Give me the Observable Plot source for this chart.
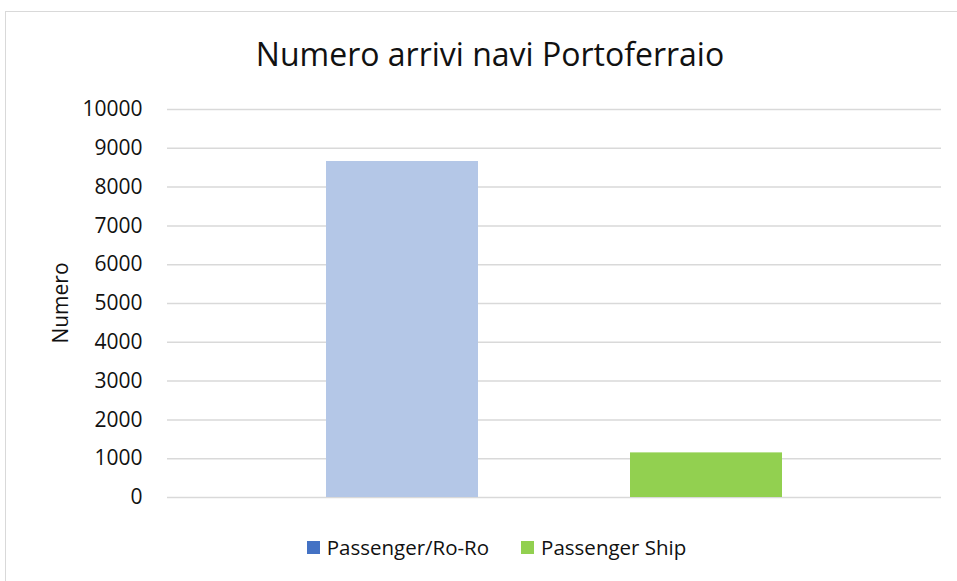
<!DOCTYPE html>
<html><head><meta charset="utf-8">
<script src="https://cdn.jsdelivr.net/npm/d3@7"></script>
<script src="https://cdn.jsdelivr.net/npm/@observablehq/plot@0.6"></script>
<style>
body{margin:0;background:#fff;font-family:"Open Sans",sans-serif;}
#wrap{position:relative;width:957px;height:581px;overflow:hidden;}
#frame{position:absolute;left:5px;top:11px;width:1000px;height:700px;border:1px solid #d9d9d9;}
#title{position:absolute;left:0;top:32px;width:980px;text-align:center;font-size:32px;color:#111;line-height:44px;}
#chart{position:absolute;left:0;top:85px;}
#ylab{position:absolute;left:60px;top:303px;transform:translate(-50%,-50%) rotate(-90deg);font-size:21px;color:#111;white-space:nowrap;}
#legend{position:absolute;top:533px;left:0;width:957px;display:flex;justify-content:center;font-size:20.5px;color:#111;padding-left:36px;box-sizing:border-box;}
.item{display:flex;align-items:center;margin:0 16px;}
.sw{width:13px;height:13px;margin-right:7px;}
</style></head><body>
<div id="wrap">
<div id="frame"></div>
<div id="title">Numero arrivi navi Portoferraio</div>
<div id="chart"></div>
<div id="ylab">Numero</div>
<div id="legend"></div>
</div>
<script>
const categories = ["Passenger/Ro-Ro", "Passenger Ship"];
const values = [8660, 1150];
const barColors = ["#b4c7e7", "#92d050"];
const legendColors = ["#4472c4", "#92d050"];
const yTicks = [0,1000,2000,3000,4000,5000,6000,7000,8000,9000,10000];

const data = categories.map((c,i)=>({cat:c, value:values[i], color:barColors[i]}));

const plot = Plot.plot({
  width: 957,
  height: 440,
  marginTop: 24,
  marginBottom: 28,
  marginLeft: 167,
  marginRight: 16,
  style: {fontFamily: "Open Sans, sans-serif", fontSize: "21px", color: "#111", background: "transparent", overflow: "visible"},
  x: {domain: categories, paddingInner: 0.5, paddingOuter: 0.523, axis: null},
  y: {domain: [0, 10000], ticks: yTicks, tickSize: 0, tickPadding: 25, label: null, tickFormat: d => String(d)},
  marks: [
    Plot.ruleY(yTicks, {stroke: "#d9d9d9", strokeWidth: 1.5, strokeOpacity: 1}),
    Plot.barY(data, {x: "cat", y: "value", fill: "color"})
  ]
});
document.getElementById("chart").appendChild(plot);

const leg = document.getElementById("legend");
categories.forEach((c,i)=>{
  const it = document.createElement("div"); it.className="item";
  const sw = document.createElement("div"); sw.className="sw"; sw.style.background = legendColors[i];
  const t = document.createElement("span"); t.textContent = c;
  it.appendChild(sw); it.appendChild(t); leg.appendChild(it);
});
</script>
</body></html>
